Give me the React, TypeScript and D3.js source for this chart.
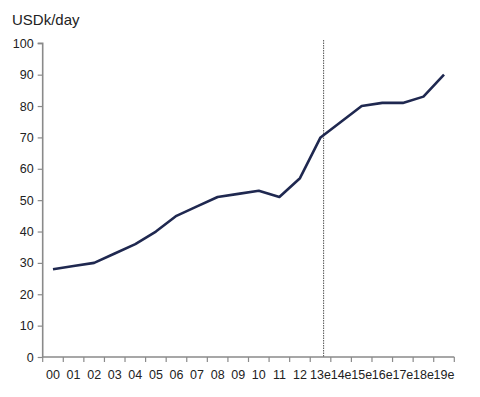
import React, { useEffect, useRef } from 'react';
import * as d3 from 'd3';

const years = ['00', '01', '02', '03', '04', '05', '06', '07', '08', '09', '10', '11', '12', '13e', '14e', '15e', '16e', '17e', '18e', '19e'];
const rates = [28, 29, 30, 33, 36, 40, 45, 48, 51, 52, 53, 51, 57, 70, 75, 80, 81, 81, 83, 90];
const yTicks = [0, 10, 20, 30, 40, 50, 60, 70, 80, 90, 100];
const forecastStart = '13e';

const FONT = 'Liberation Sans, Arial, sans-serif';

const App = () => {
  const svgRef = useRef<SVGSVGElement>(null);

  useEffect(() => {
    const svg = d3.select(svgRef.current);
    svg.selectAll('*').remove();

    const left = 42.7, right = 454.3, top = 43.3, bottom = 357;

    const x = d3.scaleBand<string>().domain(years).range([left, right]);
    const y = d3.scaleLinear().domain([0, 100]).range([bottom, top]);

    // заголовок
    svg.append('text')
      .attr('x', 12).attr('y', 25)
      .attr('font-family', FONT)
      .attr('font-size', 15)
      .attr('fill', '#222')
      .text('USDk/day');

    // ось Y
    const yAxis = svg.append('g')
      .attr('transform', `translate(${left},0)`)
      .call(d3.axisLeft(y).tickValues(yTicks).tickSize(5).tickPadding(4));
    // ось X
    const xAxis = svg.append('g')
      .attr('transform', `translate(0,${bottom})`)
      .call(d3.axisBottom(x).tickSize(0).tickPadding(13));

    [yAxis, xAxis].forEach(g => {
      g.attr('font-family', FONT).attr('font-size', 12.5);
      g.select('.domain').attr('stroke', '#8a8a8a').attr('stroke-width', 1.6);
      g.selectAll('.tick line').attr('stroke', '#8a8a8a').attr('stroke-width', 1.2);
      g.selectAll('.tick text').attr('fill', '#222');
    });
    yAxis.select('.domain').attr('d', `M-5,${top}H0V${bottom}`);
    xAxis.select('.domain').attr('d', `M${left},0H${right}`);

    // засечки на границах категорий
    xAxis.selectAll('.edge')
      .data(years.map(d => x(d)!).concat([right]))
      .enter()
      .append('line')
      .attr('x1', d => d).attr('x2', d => d)
      .attr('y1', 0).attr('y2', 5)
      .attr('stroke', '#8a8a8a').attr('stroke-width', 1.2);

    // граница прогноза
    const fx = x(forecastStart)! + x.bandwidth() * 0.65;
    svg.append('line')
      .attr('x1', fx).attr('x2', fx)
      .attr('y1', 40).attr('y2', bottom)
      .attr('stroke', '#555')
      .attr('stroke-width', 1)
      .attr('stroke-dasharray', '1.5,1');

    const line = d3.line<number>()
      .x((_, i) => x(years[i])! + x.bandwidth() / 2)
      .y(d => y(d));

    svg.append('path')
      .datum(rates)
      .attr('d', line)
      .attr('fill', 'none')
      .attr('stroke', '#1f2850')
      .attr('stroke-width', 2.6)
      .attr('stroke-linejoin', 'round');
  }, []);

  return <svg ref={svgRef} width="480" height="397" style={{ display: 'block', margin: '-8px' }} />;
};

export default App;
